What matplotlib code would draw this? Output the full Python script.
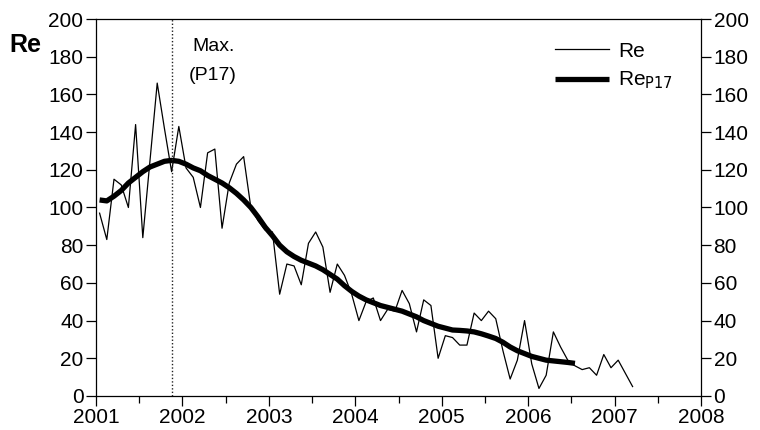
import numpy as np
import matplotlib
matplotlib.use("Agg")
import matplotlib.pyplot as plt
from matplotlib.ticker import MultipleLocator

plt.rcParams['font.family'] = ['Liberation Sans', 'DejaVu Sans']
plt.rcParams['mathtext.default'] = 'regular'

# Monthly Re values, starting January 2001 (mid-month time stamps)
re_monthly = [
    97, 83, 115, 112, 100, 144, 84, 125, 166, 142, 119, 143,
    121, 116, 100, 129, 131, 89, 113, 123, 127, 100, 93, 88,
    87, 54, 70, 69, 59, 81, 87, 79, 55, 70, 64, 54,
    40, 50, 52, 40, 46, 45, 56, 49, 34, 51, 48, 20,
    32, 31, 27, 27, 44, 40, 45, 41, 24, 9, 19, 40,
    17, 4, 11, 34, 26, 19, 16, 14, 15, 11, 22, 15,
    19, 12, 5,
]

# Smoothed series Re_P17, same monthly time base
re_p17 = [
    104, 103.5, 106, 109, 113, 116, 119, 121.5, 123, 124.5, 125, 124.5,
    123, 121, 119.5, 117, 115, 113, 110.5, 107.5, 104, 100, 95, 89.5,
    85, 80, 76.5, 74, 72, 70.5, 69, 67, 64.5, 62, 58.5, 55.5,
    53, 51, 49.5, 48, 47, 46, 45, 43.5, 42, 40, 38.5, 37,
    36, 35, 34.8, 34.5, 34, 33, 31.8, 30.5, 28.5, 26, 24, 22.5,
    21, 20, 19, 18.6, 18.2, 17.8, 17.3,
]

year_ticks = list(range(2001, 2009))
re_ticks = list(range(0, 201, 20))

t_re = 2001 + (np.arange(len(re_monthly)) + 0.5) / 12
t_p17 = 2001 + (np.arange(len(re_p17)) + 0.5) / 12
t_max = t_p17[int(np.argmax(re_p17))]

fig = plt.figure(figsize=(7.6, 4.3), dpi=100)
ax = fig.add_axes([0.1263, 0.0791, 0.7961, 0.8767])

ax.plot(t_re, re_monthly, color='black', lw=0.9, label='Re')
ax.plot(t_p17, re_p17, color='black', lw=3.8, solid_capstyle='butt',
        label='Re$_{\\rm P17}$')
ax.axvline(t_max, color='#222222', lw=1.0, ls=(0, (1, 1.5)))

ax.text(t_max + 0.48, 185.5, 'Max.', ha='center', va='center', fontsize=14)
ax.text(t_max + 0.48, 170, '(P17)', ha='center', va='center', fontsize=14)

ax.set_xlim(2001, 2008)
ax.set_ylim(0, 200)
ax.set_xticks(year_ticks)
ax.set_xticklabels([str(y) for y in year_ticks])
ax.xaxis.set_minor_locator(MultipleLocator(0.5))
ax.set_yticks(re_ticks)
ax.tick_params(axis='both', which='major', direction='out', length=7,
               width=0.9, labelsize=15, pad=2)
ax.tick_params(axis='x', which='minor', direction='out', length=5, width=0.9)
ax.tick_params(axis='y', which='both', left=True, right=True,
               labelleft=True, labelright=True)
for s in ax.spines.values():
    s.set_linewidth(0.9)

fig.text(0.012, 0.895, 'Re', fontsize=18, fontweight='bold', ha='left',
         va='center')

leg = ax.legend(loc='upper right', bbox_to_anchor=(0.985, 0.99),
                frameon=False, fontsize=15, handlelength=2.6,
                handletextpad=0.45, labelspacing=0.45)

fig.savefig('out.png', dpi=100)
